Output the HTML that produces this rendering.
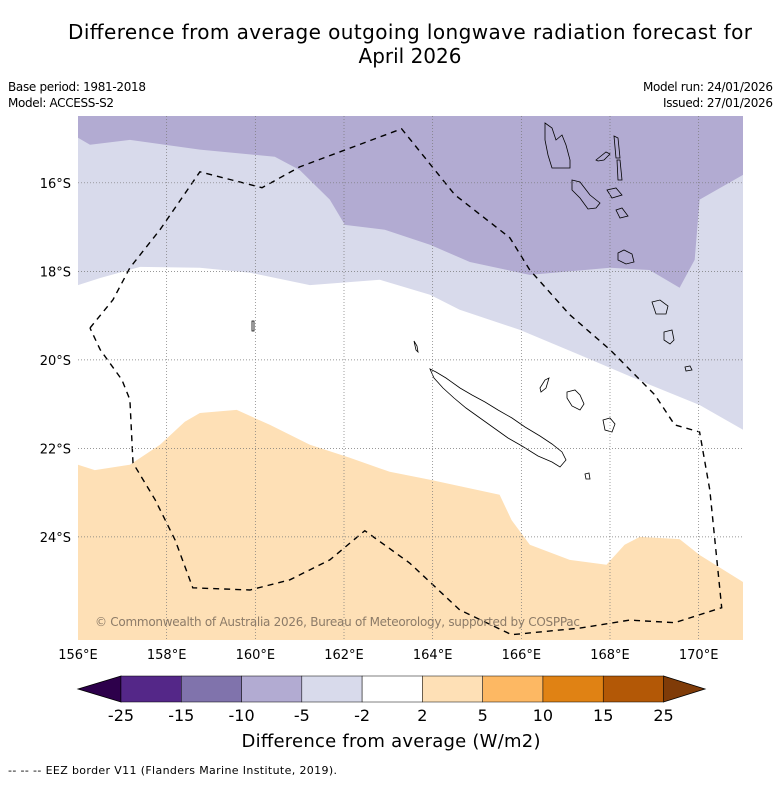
<!DOCTYPE html>
<html><head><meta charset="utf-8">
<style>
body{margin:0;background:#fff;width:781px;height:781px;overflow:hidden;font-family:"DejaVu Sans","Liberation Sans",sans-serif;}
svg text{font-family:"DejaVu Sans","Liberation Sans",sans-serif;}
</style></head>
<body>
<svg id="chart" width="781" height="781" viewBox="0 0 781 781" xmlns="http://www.w3.org/2000/svg">
<text x="410" y="39" font-size="20" text-anchor="middle" textLength="684">Difference from average outgoing longwave radiation forecast for</text>
<text x="410" y="63" font-size="20" text-anchor="middle">April 2026</text>
<text x="8" y="91" font-size="12" textLength="138">Base period: 1981-2018</text>
<text x="8" y="107" font-size="12" textLength="106">Model: ACCESS-S2</text>
<text x="773" y="91" font-size="12" text-anchor="end" textLength="130">Model run: 24/01/2026</text>
<text x="773" y="107" font-size="12" text-anchor="end" textLength="110">Issued: 27/01/2026</text>
<defs><clipPath id="mapclip"><rect x="78" y="116" width="665" height="524"/></clipPath></defs>
<g id="map" clip-path="url(#mapclip)"></g>
<g id="axes"></g>
<g id="cbar"></g>
<text x="391" y="747" font-size="18" text-anchor="middle" textLength="299">Difference from average (W/m2)</text>
<text x="8" y="774" font-size="11" textLength="329">--  --  -- EEZ border V11 (Flanders Marine Institute, 2019).</text>
</svg>
<script>
// ---- data ----
const lonTicks = [156,158,160,162,164,166,168,170];
const latTicks = [16,18,20,22,24];
const levelBounds = [-25,-15,-10,-5,-2,2,5,10,15,25];
const levelColors = ["#542788","#8073ac","#b2abd2","#d8daeb","#ffffff","#fee0b6","#fdb863","#e08214","#b35806"];
const extendColors = ["#2d004b","#7f3b08"];
// contour boundaries [lon, latS]
const darkPurpleEdge = [[156,14.98],[156.27,15.14],[157.17,15.03],[158.75,15.25],[160.44,15.41],[161.0,15.71],[161.68,16.38],[162.02,16.95],[162.92,17.06],[163.94,17.4],[164.84,17.79],[166.19,18.08],[168.0,17.92],[168.89,17.97],[169.57,18.37],[169.91,17.74],[170.02,16.38],[171,15.82]];
const lightPurpleEdge = [[156,18.31],[156.5,18.15],[157.4,17.9],[158.75,17.92],[159.88,18.03],[161.23,18.31],[162.81,18.19],[163.94,18.53],[164.61,18.87],[165.96,19.32],[167.32,19.89],[168.89,20.56],[170.02,21.02],[171,21.58]];
const orangeEdge = [[156,22.37],[156.38,22.49],[157.17,22.37],[157.85,21.92],[158.41,21.4],[158.75,21.2],[159.58,21.13],[160.33,21.47],[161.23,21.92],[162.13,22.21],[163.03,22.53],[163.94,22.71],[165.51,23.05],[165.78,23.62],[166.19,24.18],[167.09,24.52],[167.92,24.63],[168.33,24.18],[168.67,24.0],[169.57,24.05],[170.02,24.41],[171,25.02]];
const eezBorder = [[156.27,19.28],[156.79,18.64],[157.17,17.92],[157.85,17.06],[158.75,15.75],[160.15,16.11],[161.0,15.64],[163.3,14.78],[164.5,16.27],[165.74,17.24],[166.19,17.97],[167.09,18.98],[168.0,19.77],[169.01,20.79],[169.46,21.47],[170.02,21.63],[170.25,22.94],[170.52,25.6],[169.46,25.94],[168.44,25.88],[167.32,26.06],[165.78,26.21],[164.61,25.65],[163.48,24.59],[162.47,23.86],[161.68,24.52],[160.78,24.97],[159.88,25.2],[158.59,25.15],[158.19,24.07],[157.74,23.16],[157.24,22.33],[157.17,20.9],[156.99,20.45],[156.5,19.77],[156.27,19.28]];

// ---- axes ----
const x0=78, x1=743, y0=116, y1=640;
const lonMin=156, lonMax=171, latMin=14.49, latMax=26.33;
function xs(lon){return x0+(lon-lonMin)/(lonMax-lonMin)*(x1-x0);}
function ys(lat){return y0+(lat-latMin)/(latMax-latMin)*(y1-y0);}
const NS="http://www.w3.org/2000/svg";
function mk(tag,attrs,parent){const e=document.createElementNS(NS,tag);for(const k in attrs)e.setAttribute(k,attrs[k]);parent.appendChild(e);return e;}
function pts(arr){return arr.map(p=>xs(p[0]).toFixed(1)+","+ys(p[1]).toFixed(1)).join(" ");}

const map=document.getElementById('map');
let lp=mk('polygon',{points:pts([[lonMin,latMin-1]].concat(lightPurpleEdge,[[lonMax,latMin-1]])),fill:"#d8daeb"},map);


let dp=mk('polygon',{points:pts([[lonMin,latMin-1]].concat(darkPurpleEdge,[[lonMax,latMin-1]])),fill:"#b2abd2"},map);


let op=mk('polygon',{points:pts(orangeEdge.concat([[lonMax,latMax+1],[lonMin,latMax+1]])),fill:"#fee0b6"},map);



// islands (basemap outlines, pixel coords)
const islands=[
"M430,369 L436,372 L446,378 L460,388 L472,395 L485,402 L498,410 L512,418 L525,427 L540,436 L552,444 L562,452 L566,460 L560,467 L552,462 L538,456 L522,446 L508,438 L494,428 L480,418 L466,408 L454,398 L443,388 L434,378 Z",
"M414,341 L417,346 L418,352 L416,350 Z",
"M540,388 L545,380 L549,378 L546,388 L541,392 Z",
"M567,392 L575,390 L580,395 L584,404 L580,410 L572,406 L567,398 Z",
"M603,420 L610,418 L615,424 L612,432 L605,430 Z",
"M545,123 L552,128 L556,140 L562,135 L566,145 L570,160 L570,168 L560,168 L552,168 L548,155 L545,140 Z",
"M572,180 L580,182 L590,195 L600,203 L596,208 L588,209 L580,198 L572,190 Z",
"M596,160 L606,152 L610,154 L604,160 L598,161 Z",
"M614,136 L618,138 L620,158 L616,158 Z",
"M617,160 L620,160 L622,180 L618,180 Z",
"M607,190 L616,188 L622,195 L612,198 Z",
"M616,210 L622,208 L628,216 L620,218 Z",
"M618,253 L624,250 L632,254 L634,262 L626,264 L618,260 Z",
"M652,302 L660,300 L668,306 L666,314 L656,314 Z",
"M664,332 L672,330 L674,340 L670,344 L664,340 Z",
"M685,367 L690,366 L692,370 L686,371 Z",
"M585,474 L589,473 L590,479 L586,479 Z",
"M252,321 L254,321 L254,331 L252,331 Z"];
islands.forEach((d,i)=>{
  const p=mk('path',{d:d,fill:"none",stroke:"#000","stroke-width":0.8},map);
  
  
});

const axes=document.getElementById('axes');
lonTicks.forEach(lon=>{
  if(lon>lonMin){const l=mk('line',{x1:xs(lon),x2:xs(lon),y1:y0,y2:y1,stroke:"#777","stroke-width":0.7,"stroke-dasharray":"1,2"},axes);
  
  }
  const t=mk('text',{x:xs(lon),y:659,"font-size":13,"text-anchor":"middle"},axes);
  t.textContent=lon+"°E";
  
  
});
latTicks.forEach(lat=>{
  const l=mk('line',{x1:x0,x2:x1,y1:ys(lat),y2:ys(lat),stroke:"#777","stroke-width":0.7,"stroke-dasharray":"1,2"},axes);
  
  
  const t=mk('text',{x:71,y:ys(lat)+5,"font-size":13,"text-anchor":"end"},axes);
  t.textContent=lat+"°S";
  
  
});
const eez=mk('polyline',{points:pts(eezBorder),fill:"none",stroke:"#000","stroke-width":1.4,"stroke-dasharray":"6,5"},map);


const cp=mk('text',{x:95,y:626,"font-size":12,fill:"#8c7b68",textLength:485},map);
cp.textContent="© Commonwealth of Australia 2026, Bureau of Meteorology, supported by COSPPac";



const cbar=document.getElementById('cbar');
const cbL=121, cbR=663.5, cbT=676, cbB=702, n=levelColors.length, w=(cbR-cbL)/n;
const tl=mk('polygon',{points:`78,689 ${cbL},${cbT} ${cbL},${cbB}`,fill:extendColors[0],stroke:"#000","stroke-width":0.8},cbar);


const tr=mk('polygon',{points:`${cbR},${cbT} 705,689 ${cbR},${cbB}`,fill:extendColors[1],stroke:"#000","stroke-width":0.8},cbar);


levelColors.forEach((c,i)=>{
  const r=mk('rect',{x:cbL+i*w,y:cbT,width:w,height:cbB-cbT,fill:c,stroke:"#000","stroke-width":0.5},cbar);
  
  
});
levelBounds.forEach((v,i)=>{
  const t=mk('text',{x:cbL+i*w,y:721,"font-size":16,"text-anchor":"middle"},cbar);
  t.textContent=v;
  
  
});
</script>
</body></html>
